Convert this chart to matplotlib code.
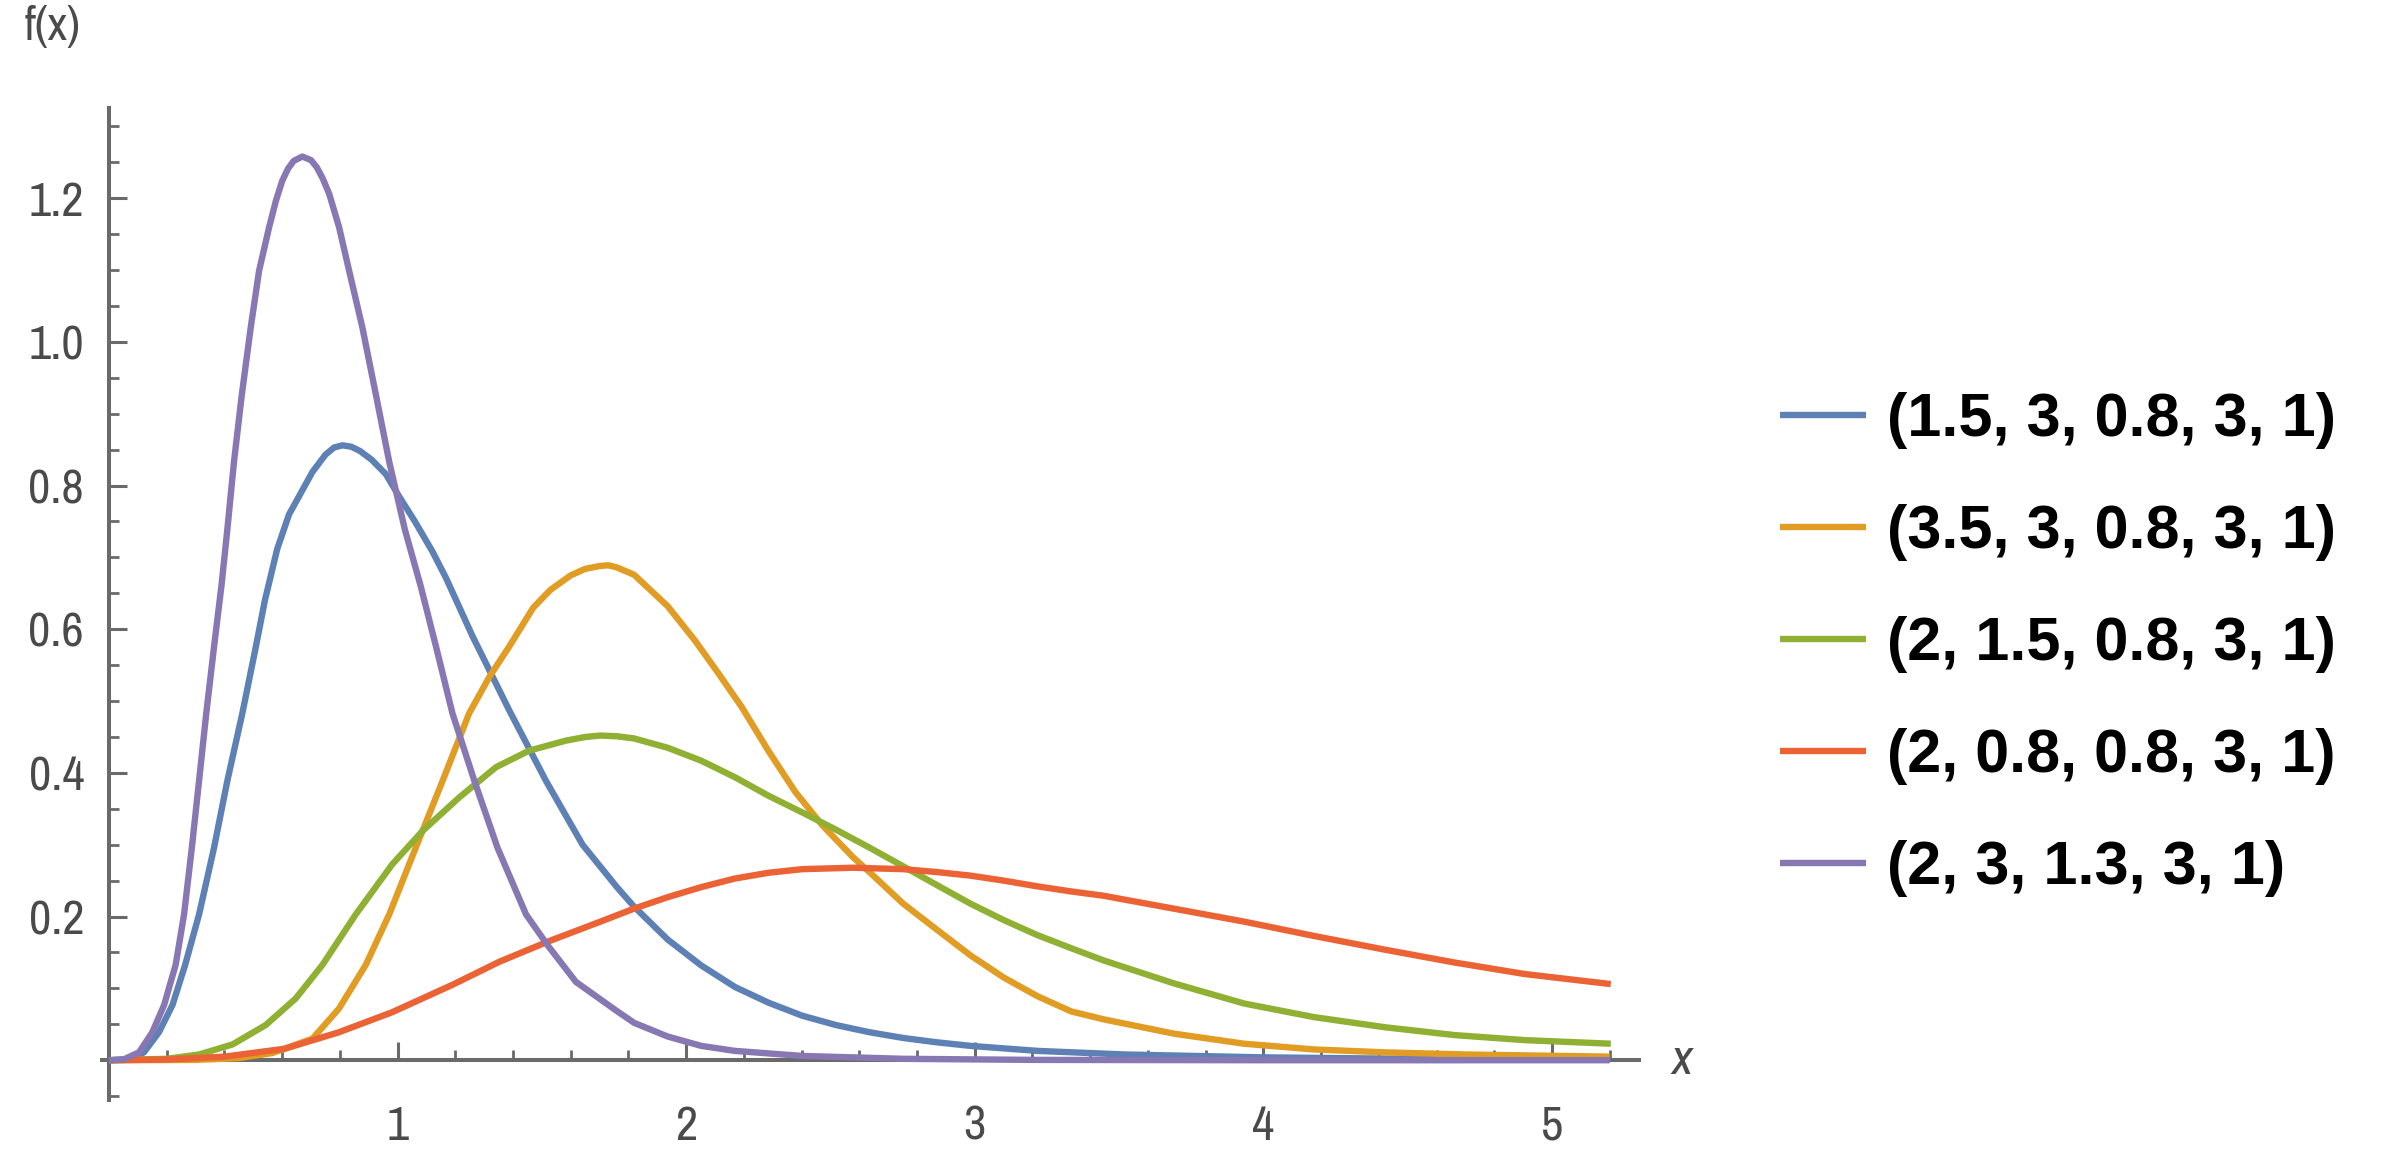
import matplotlib
matplotlib.use("Agg")
import matplotlib.pyplot as plt
from matplotlib.font_manager import FontProperties

# parameter sets shown in the legend, Mathematica default colours
labels = ["(1.5, 3, 0.8, 3, 1)", "(3.5, 3, 0.8, 3, 1)", "(2, 1.5, 0.8, 3, 1)",
          "(2, 0.8, 0.8, 3, 1)", "(2, 3, 1.3, 3, 1)"]
colors = ["#5E81B5", "#E19C24", "#8FB032", "#EB6235", "#8778B3"]

# curve values
blue_x = [0.0, 0.08, 0.121, 0.173, 0.220, 0.264, 0.312, 0.364, 0.410, 0.462,
          0.509, 0.540, 0.583, 0.624, 0.705, 0.750, 0.780, 0.809, 0.840, 0.870,
          0.910, 0.959, 1.005, 1.060, 1.121, 1.167, 1.260, 1.387, 1.514, 1.641,
          1.762, 1.819, 1.936, 2.052, 2.169, 2.286, 2.402, 2.519, 2.635, 2.752,
          2.868, 2.985, 3.218, 3.521, 4.0, 4.5, 5.2]
blue_y = [0.0, 0.002, 0.011, 0.039, 0.077, 0.133, 0.203, 0.296, 0.389, 0.483,
          0.576, 0.640, 0.712, 0.760, 0.819, 0.843, 0.853, 0.856, 0.854, 0.848,
          0.836, 0.816, 0.785, 0.750, 0.708, 0.672, 0.590, 0.487, 0.389, 0.300,
          0.240, 0.214, 0.168, 0.132, 0.102, 0.080, 0.062, 0.049, 0.039, 0.031,
          0.025, 0.020, 0.013, 0.008, 0.004, 0.002, 0.001]

orange_x = [0.0, 0.3, 0.45, 0.566, 0.705, 0.797, 0.890, 0.971, 1.063, 1.156,
            1.248, 1.320, 1.387, 1.47, 1.53, 1.60, 1.65, 1.70, 1.73, 1.76,
            1.819, 1.936, 2.029, 2.111, 2.192, 2.286, 2.379, 2.472, 2.577, 2.635,
            2.752, 2.868, 2.985, 3.101, 3.218, 3.334, 3.446, 3.690, 3.933, 4.176,
            4.420, 4.7, 5.2]
orange_y = [0.0, 0.0005, 0.003, 0.010, 0.030, 0.072, 0.133, 0.203, 0.296, 0.389,
            0.483, 0.535, 0.576, 0.630, 0.655, 0.675, 0.684, 0.688, 0.689, 0.686,
            0.676, 0.632, 0.585, 0.539, 0.492, 0.430, 0.373, 0.327, 0.283, 0.262,
            0.218, 0.182, 0.146, 0.115, 0.089, 0.068, 0.057, 0.037, 0.023, 0.015,
            0.011, 0.008, 0.005]

green_x = [0.0, 0.2, 0.312, 0.428, 0.543, 0.647, 0.740, 0.855, 0.982, 1.086,
           1.214, 1.341, 1.456, 1.584, 1.650, 1.703, 1.760, 1.819, 1.936, 2.052,
           2.169, 2.286, 2.402, 2.519, 2.635, 2.752, 2.868, 2.985, 3.101, 3.218,
           3.334, 3.446, 3.690, 3.933, 4.176, 4.420, 4.663, 4.906, 5.204]
green_y = [0.0, 0.002, 0.008, 0.022, 0.049, 0.086, 0.133, 0.203, 0.273, 0.319,
           0.366, 0.408, 0.431, 0.445, 0.450, 0.452, 0.451, 0.448, 0.435, 0.417,
           0.394, 0.368, 0.345, 0.321, 0.296, 0.270, 0.244, 0.218, 0.195, 0.174,
           0.156, 0.139, 0.107, 0.079, 0.060, 0.046, 0.035, 0.028, 0.023]

red_x = [0.0, 0.2, 0.4, 0.609, 0.797, 0.982, 1.190, 1.352, 1.526, 1.703,
         1.819, 1.936, 2.052, 2.169, 2.286, 2.402, 2.577, 2.752, 2.868, 2.985,
         3.101, 3.218, 3.334, 3.446, 3.690, 3.933, 4.176, 4.420, 4.663, 4.906, 5.204]
red_y = [0.0, 0.001, 0.005, 0.016, 0.039, 0.067, 0.105, 0.137, 0.166, 0.193,
         0.211, 0.227, 0.241, 0.253, 0.261, 0.266, 0.268, 0.266, 0.262, 0.257,
         0.250, 0.242, 0.235, 0.229, 0.211, 0.193, 0.173, 0.154, 0.136, 0.120, 0.106]

purple_x = [0.0, 0.05, 0.104, 0.150, 0.191, 0.231, 0.260, 0.287, 0.312, 0.337,
            0.364, 0.390, 0.410, 0.433, 0.460, 0.491, 0.520, 0.555, 0.578, 0.600,
            0.620, 0.640, 0.670, 0.700, 0.720, 0.740, 0.763, 0.797, 0.832, 0.878,
            0.925, 0.971, 1.025, 1.080, 1.133, 1.190, 1.266, 1.346, 1.445, 1.520,
            1.618, 1.758, 1.82, 1.936, 2.052, 2.169, 2.402, 2.752, 3.2, 4.0, 5.2]
purple_y = [0.0, 0.001, 0.011, 0.039, 0.077, 0.133, 0.203, 0.296, 0.389, 0.483,
            0.576, 0.662, 0.739, 0.833, 0.926, 1.020, 1.099, 1.160, 1.196, 1.224,
            1.241, 1.252, 1.258, 1.253, 1.243, 1.228, 1.206, 1.160, 1.099, 1.020,
            0.926, 0.833, 0.739, 0.660, 0.576, 0.483, 0.389, 0.296, 0.203, 0.160,
            0.109, 0.069, 0.052, 0.033, 0.020, 0.013, 0.006, 0.002, 0.0005, 0.0, 0.0]

x_ticks = [1, 2, 3, 4, 5]
y_ticks = [0.2, 0.4, 0.6, 0.8, 1.0, 1.2]
y_tick_labels = ["0.2", "0.4", "0.6", "0.8", "1.0", "1.2"]

axis_grey = "#6a6a6a"
text_grey = "#4a4a4a"
tick_font = ["Archivo Narrow", "Liberation Sans", "DejaVu Sans"]

fig = plt.figure(figsize=(23.81, 11.51), dpi=100)
ax = fig.add_axes([0.04276, 0.0439, 0.6454, 0.8619])

series = [(blue_x, blue_y), (orange_x, orange_y), (green_x, green_y),
          (red_x, red_y), (purple_x, purple_y)]
handles = []
for (xs, ys), c, lab in zip(series, colors, labels):
    h, = ax.plot(xs, ys, color=c, lw=4.6, label=lab, zorder=3,
                 solid_joinstyle="round", solid_capstyle="butt")
    handles.append(h)

ax.set_xlim(-0.025, 5.30)
ax.set_ylim(-0.056, 1.325)

for s in ["top", "right"]:
    ax.spines[s].set_visible(False)
ax.spines["left"].set_position(("data", 0))
ax.spines["bottom"].set_position(("data", 0))
for s in ["left", "bottom"]:
    ax.spines[s].set_color(axis_grey)
    ax.spines[s].set_linewidth(2.9)
    ax.spines[s].set_zorder(2)

ax.set_xticks(x_ticks)
ax.set_xticklabels([str(t) for t in x_ticks])
ax.set_xticks([k * 0.2 for k in range(1, 27) if k % 5 != 0], minor=True)
ax.set_yticks(y_ticks)
ax.set_yticklabels(y_tick_labels)
ax.set_yticks([k * 0.05 for k in range(-1, 27) if k % 4 != 0], minor=True)

ax.tick_params(which="both", direction="in", color=axis_grey,
               labelcolor=text_grey, labelsize=35)
ax.tick_params(which="major", length=13, width=2.2)
ax.tick_params(which="minor", length=7, width=2.0)
ax.tick_params(axis="x", which="major", pad=32)
ax.tick_params(axis="y", which="major", pad=18)
for lab in ax.get_xticklabels() + ax.get_yticklabels():
    lab.set_family(tick_font)

fig.text(53 / 2381, 1 - 27 / 1151, "f(x)", ha="center", va="center",
         fontsize=34, color=text_grey, family=tick_font)
ax.text(5.45, 0, "x", ha="center", va="center", fontsize=36,
        color=text_grey, family=tick_font, style="italic", clip_on=False)

fig.legend(handles=handles, labels=labels, loc="upper left",
           bbox_to_anchor=(1780 / 2381, 1 - 392 / 1151), frameon=False,
           borderpad=0, borderaxespad=0, handlelength=1.4,
           handletextpad=0.35, labelspacing=0.9,
           prop=FontProperties(family=["Liberation Sans", "DejaVu Sans"],
                               weight="bold", size=44))

fig.savefig("out.png", dpi=100, facecolor="white")
